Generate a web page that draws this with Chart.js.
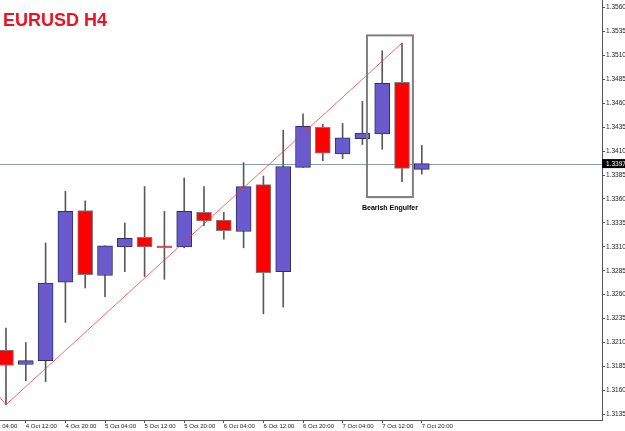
<!DOCTYPE html>
<html lang="en">
<head>
  <meta charset="UTF-8">
  <title>EURUSD H4</title>
  <script src="https://cdn.jsdelivr.net/npm/chart.js@4.4.0/dist/chart.umd.min.js"></script>
  <style>
    html, body { margin: 0; padding: 0; background: #fff; }
    #wrap { width: 625px; height: 431px; position: relative; }
  </style>
</head>
<body>
  <div id="wrap"><canvas id="chart"></canvas></div>

  <script>
    // bar times (first one is only a tick label, its candle is off the left edge)
    const times = [
      '4 Oct 04:00', '4 Oct 08:00', '4 Oct 12:00', '4 Oct 16:00', '4 Oct 20:00',
      '5 Oct 00:00', '5 Oct 04:00', '5 Oct 08:00', '5 Oct 12:00', '5 Oct 16:00', '5 Oct 20:00',
      '6 Oct 00:00', '6 Oct 04:00', '6 Oct 08:00', '6 Oct 12:00', '6 Oct 16:00', '6 Oct 20:00',
      '7 Oct 00:00', '7 Oct 04:00', '7 Oct 08:00', '7 Oct 12:00', '7 Oct 16:00', '7 Oct 20:00'
    ];
    // candles start at times[1]
    const opens  = [1.3202, 1.3187, 1.3191, 1.3273, 1.3348, 1.3280, 1.3310, 1.3320, 1.3311, 1.3310, 1.3346,
                    1.3338, 1.3326, 1.3375, 1.3284, 1.3393, 1.3435, 1.3407, 1.3423, 1.3428, 1.3482, 1.3391];
    const highs  = [1.3225, 1.3210, 1.3314, 1.3368, 1.3358, 1.3311, 1.3335, 1.3373, 1.3347, 1.3382, 1.3373,
                    1.3346, 1.3398, 1.3384, 1.3432, 1.3449, 1.3438, 1.3439, 1.3462, 1.3515, 1.3523, 1.3416];
    const lows   = [1.3145, 1.3170, 1.3169, 1.3231, 1.3267, 1.3258, 1.3284, 1.3279, 1.3276, 1.3309, 1.3332,
                    1.3318, 1.3309, 1.3240, 1.3247, 1.3393, 1.3400, 1.3402, 1.3417, 1.3412, 1.3378, 1.3386];
    const closes = [1.3186, 1.3191, 1.3272, 1.3347, 1.3281, 1.3311, 1.3319, 1.3310, 1.3309, 1.3347, 1.3337,
                    1.3327, 1.3373, 1.3283, 1.3394, 1.3436, 1.3408, 1.3424, 1.3429, 1.3481, 1.3392, 1.3397];

    const priceTicks = [1.3135, 1.3160, 1.3185, 1.3210, 1.3235, 1.3260, 1.3285, 1.3310, 1.3335,
                        1.3360, 1.3385, 1.3410, 1.3435, 1.3460, 1.3485, 1.3510, 1.3535, 1.3560];
    const timeTicks = [0, 2, 4, 6, 8, 10, 12, 14, 16, 18, 20, 22];

    // zigzag trend line (x = index in times)
    const zigzagX = [0, 1, 21];
    const zigzagY = [1.3169, 1.3145, 1.3523];

    const lastPrice = 1.3397;
    const boxX = [19.23, 21.55];
    const boxY = [1.3362, 1.3531];
    const boxLabel = 'Bearish Engulfer';
    const boxLabelY = 1.3351;

    const BLUE = '#6a5acd', RED = '#ff0000';

    const bodies = opens.map((o, i) => ({ x: i + 1, y: [o, closes[i]] }));
    const wicks = lows.map((l, i) => ({ x: i + 1, y: [l, highs[i]] }));
    const up = opens.map((o, i) => closes[i] >= o);

    const overlay = {
      id: 'overlay',
      beforeDatasetsDraw(chart) {
        const { ctx, chartArea: a, scales: { y } } = chart;
        const py = Math.round(y.getPixelForValue(lastPrice)) + 0.5;
        ctx.save();
        ctx.strokeStyle = '#8aa0b8';
        ctx.lineWidth = 1;
        ctx.beginPath();
        ctx.moveTo(a.left, py);
        ctx.lineTo(a.right, py);
        ctx.stroke();
        ctx.restore();
      },
      afterDraw(chart) {
        const { ctx, chartArea: a, scales: { x, y } } = chart;
        ctx.save();
        // pattern box
        const x0 = x.getPixelForValue(boxX[0]), x1 = x.getPixelForValue(boxX[1]);
        const y0 = y.getPixelForValue(boxY[1]), y1 = y.getPixelForValue(boxY[0]);
        ctx.strokeStyle = '#7f7f7f';
        ctx.lineWidth = 2;
        ctx.strokeRect(x0, y0, x1 - x0, y1 - y0);
        ctx.fillStyle = '#000';
        ctx.font = 'bold 7px "Liberation Sans", Arial, sans-serif';
        ctx.textAlign = 'center';
        ctx.textBaseline = 'middle';
        ctx.fillText(boxLabel, (x0 + x1) / 2, y.getPixelForValue(boxLabelY));

        // title
        ctx.fillStyle = '#ee1122';
        ctx.font = 'bold 18px "Liberation Sans", Arial, sans-serif';
        ctx.textAlign = 'left';
        ctx.textBaseline = 'alphabetic';
        ctx.fillText('EURUSD H4', 3, 26);

        // last price tag on the axis
        const py = y.getPixelForValue(lastPrice);
        ctx.fillStyle = '#000';
        ctx.fillRect(a.right, py - 4.5, 625 - a.right, 9);
        ctx.fillStyle = '#fff';
        ctx.font = '6.5px "Liberation Sans", Arial, sans-serif';
        ctx.textBaseline = 'middle';
        ctx.fillText(lastPrice.toFixed(4), a.right + 4, py + 0.5);
        ctx.restore();
      }
    };

    new Chart(document.getElementById('chart'), {
      type: 'bar',
      data: {
        datasets: [
          {
            type: 'line',
            data: zigzagX.map((v, i) => ({ x: v, y: zigzagY[i] })),
            borderColor: 'rgba(255,40,40,0.7)',
            borderWidth: 1,
            pointRadius: 0,
            tension: 0
          },
          {
            data: bodies,
            grouped: false,
            barThickness: 15,
            backgroundColor: up.map(u => u ? BLUE : RED),
            borderColor: up.map(u => u ? '#303060' : '#808080'),
            borderWidth: 1,
            borderSkipped: false,
            minBarLength: 2
          },
          {
            data: wicks,
            grouped: false,
            barThickness: 1,
            backgroundColor: '#5a5a5a',
            borderWidth: 0
          }
        ]
      },
      options: {
        responsive: true,
        maintainAspectRatio: false,
        animation: false,
        layout: { padding: 0 },
        plugins: { legend: { display: false }, tooltip: { enabled: false } },
        scales: {
          x: {
            type: 'linear',
            offset: false,
            min: 0.697,
            max: 31.1,
            grid: { offset: false, drawOnChartArea: false, drawTicks: true, tickLength: 3, color: '#555' },
            border: { display: true, color: '#555' },
            afterBuildTicks: s => { s.ticks = timeTicks.map(v => ({ value: v })); },
            afterFit: s => { s.height = 11; s.paddingLeft = 0; s.paddingRight = 0; },
            ticks: {
              autoSkip: false,
              maxRotation: 0,
              minRotation: 0,
              align: 'start',
              padding: 0,
              color: '#222',
              font: { size: 6, family: '"Liberation Sans", Arial, sans-serif' },
              callback: v => times[v]
            }
          },
          y: {
            type: 'linear',
            position: 'right',
            min: 1.3129,
            max: 1.3568,
            grid: { drawOnChartArea: false, drawTicks: true, tickLength: 3, color: '#555' },
            border: { display: true, color: '#555' },
            afterBuildTicks: s => { s.ticks = priceTicks.map(v => ({ value: v })); },
            afterFit: s => { s.width = 23; s.paddingTop = 0; s.paddingBottom = 0; },
            ticks: {
              padding: 1,
              color: '#222',
              font: { size: 6.5, family: '"Liberation Sans", Arial, sans-serif' },
              callback: v => v.toFixed(4)
            }
          }
        }
      },
      plugins: [overlay]
    });
  </script>
</body>
</html>
